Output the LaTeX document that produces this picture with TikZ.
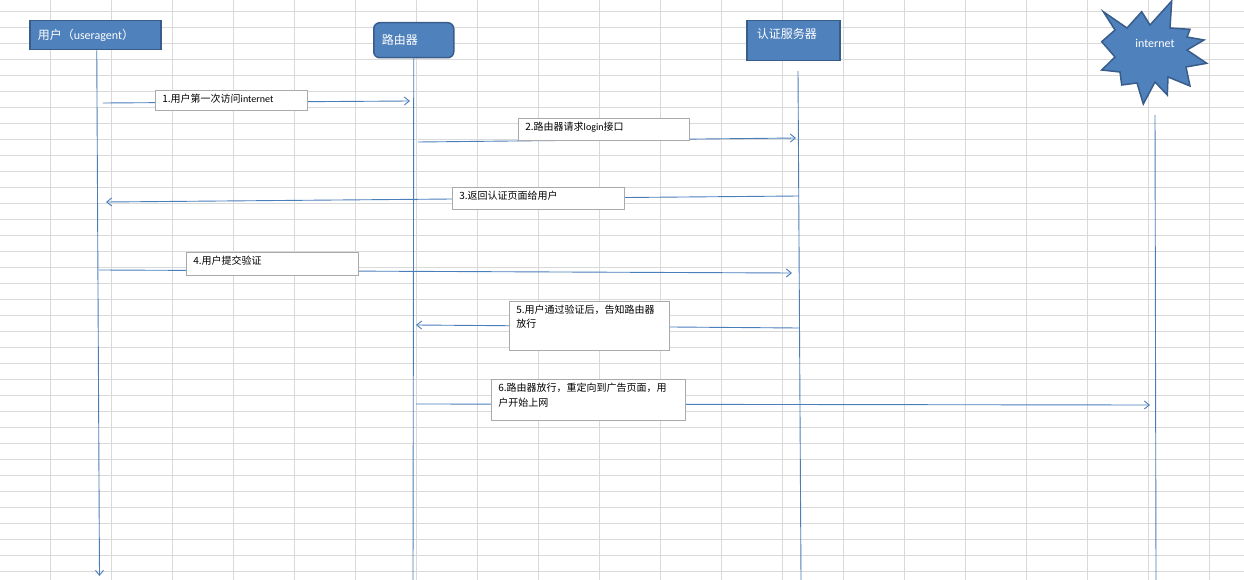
\documentclass[tikz,border=0pt]{standalone}
\usepackage{fontspec}
\setmainfont{Noto Sans CJK SC}
\newfontfamily\latinfont{Carlito}
\newcommand{\lat}[1]{{\latinfont #1}}
\usetikzlibrary{arrows.meta, positioning, calc}
\definecolor{officeblue}{RGB}{79,129,189}
\definecolor{officeborder}{RGB}{56,93,138}
\definecolor{lifeblue}{RGB}{74,126,187}
\definecolor{cellgrid}{RGB}{217,217,217}
\definecolor{notegray}{RGB}{170,170,170}

\begin{document}
\begin{tikzpicture}[x=1pt, y=-1pt,
    gridline/.style={draw=cellgrid, line width=1pt},
    actor/.style={draw=officeborder, fill=officeblue, line width=1.5pt, text=white,
      anchor=north west, align=left, inner xsep=8pt, font=\fontsize{12}{14}\selectfont},
    lifeline/.style={draw=lifeblue, line width=0.9pt},
    msg/.style={draw=lifeblue, line width=0.9pt, -{Straight Barb[length=5pt, width=8pt]}},
    note/.style={draw=notegray, fill=white, line width=0.8pt, anchor=north west,
      align=left, inner xsep=7pt, inner ysep=5pt, text height=7.5pt,
      font=\fontsize{10}{14.5}\selectfont}]
    \useasboundingbox (0,0) rectangle (1244,580);

    % sheet grid
    \foreach \gx in {0,...,19}
      \draw[gridline] ({50+61*\gx},0) -- ({50+61*\gx},580);
    \foreach \gy in {0,...,35}
      \draw[gridline] (0,{11.5+16*\gy}) -- (1244,{11.5+16*\gy});

    % actors
    \node[actor, text width=115pt, minimum height=29pt] (user) at (29,20) {用户（\lat{useragent}）};
    \node[actor, rounded corners=6pt, text width=64pt, minimum height=35pt] (router) at (373,22) {路由器};
    \node[actor, text width=73pt, inner xsep=10pt, inner ysep=8pt, text height=10pt,
          text depth=14pt] (auth) at (746,20) {认证服务器};

    % internet burst
    \draw[draw=officeborder, fill=officeblue, line width=1.5pt, line join=miter]
      (1103.3,11.7) -- (1127,28) -- (1141.7,11.7) -- (1150,25) -- (1171.7,1) -- (1170,28)
      -- (1190,29.3) -- (1187,37) -- (1204,40) -- (1187,50) -- (1206.7,63.3) -- (1186,67)
      -- (1190,86) -- (1168,77) -- (1167.3,95) -- (1155,82) -- (1143.3,104) -- (1137,83)
      -- (1121.7,85) -- (1120,72) -- (1101.7,70) -- (1115,57) -- (1101.7,41.7) -- (1115,30)
      -- cycle;
    \node[text=white, font=\fontsize{12}{14}\selectfont] (inet) at (1155,43) {\lat{internet}};

    % lifelines
    \coordinate (userend) at (99.5,576);
    \coordinate (routerend) at (413,580);
    \coordinate (authtop) at (798,71);
    \coordinate (authend) at (801,580);
    \coordinate (inettop) at (1155,115);
    \coordinate (inetend) at (1156,580);
    \draw[lifeline, -{Straight Barb[length=5pt, width=8pt]}] ([xshift=1.5pt]user.south) -- (userend);
    \draw[lifeline] (router.south) -- (routerend);
    \draw[lifeline] (authtop) -- (authend);
    \draw[lifeline] (inettop) -- (inetend);

    % message ends
    \coordinate (u1) at (103,103);   \coordinate (r1) at (410,101);
    \coordinate (r2) at (418,142);   \coordinate (a2) at (796,138);
    \coordinate (a3) at (799,196);   \coordinate (u3) at (106,202);
    \coordinate (u4) at (99,270);    \coordinate (a4) at (792,273);
    \coordinate (a5) at (799,328);   \coordinate (r5) at (416,325);
    \coordinate (r6) at (416,404);   \coordinate (i6) at (1150,405);

    % messages
    \draw[msg] (u1) -- (r1);
    \draw[msg] (r2) -- (a2);
    \draw[msg] (a3) -- (u3);
    \draw[msg] (u4) -- (a4);
    \draw[msg] (a5) -- (r5);
    \draw[msg] (r6) -- (i6);

    % message labels
    \node[note, text width=138pt, text depth=3pt] (n1) at (155,90) {1.用户第一次访问\lat{internet}};
    \node[note, text width=157pt, text depth=4.5pt] (n2) at (518,118) {2.路由器请求\lat{login}接口};
    \node[note, text width=158pt, text depth=4.5pt] (n3) at (452,187) {3.返回认证页面给用户};
    \node[note, text width=158pt, text depth=5pt] (n4) at (186,252) {4.用户提交验证};
    \node[note, text width=146pt, text depth=31.5pt] (n5) at (509,300.5) {5.用户通过验证后，告知路由器\\放行};
    \node[note, text width=180pt, text depth=23.5pt] (n6) at (491,379) {6.路由器放行，重定向到广告页面，用\\户开始上网};
\end{tikzpicture}
\end{document}
